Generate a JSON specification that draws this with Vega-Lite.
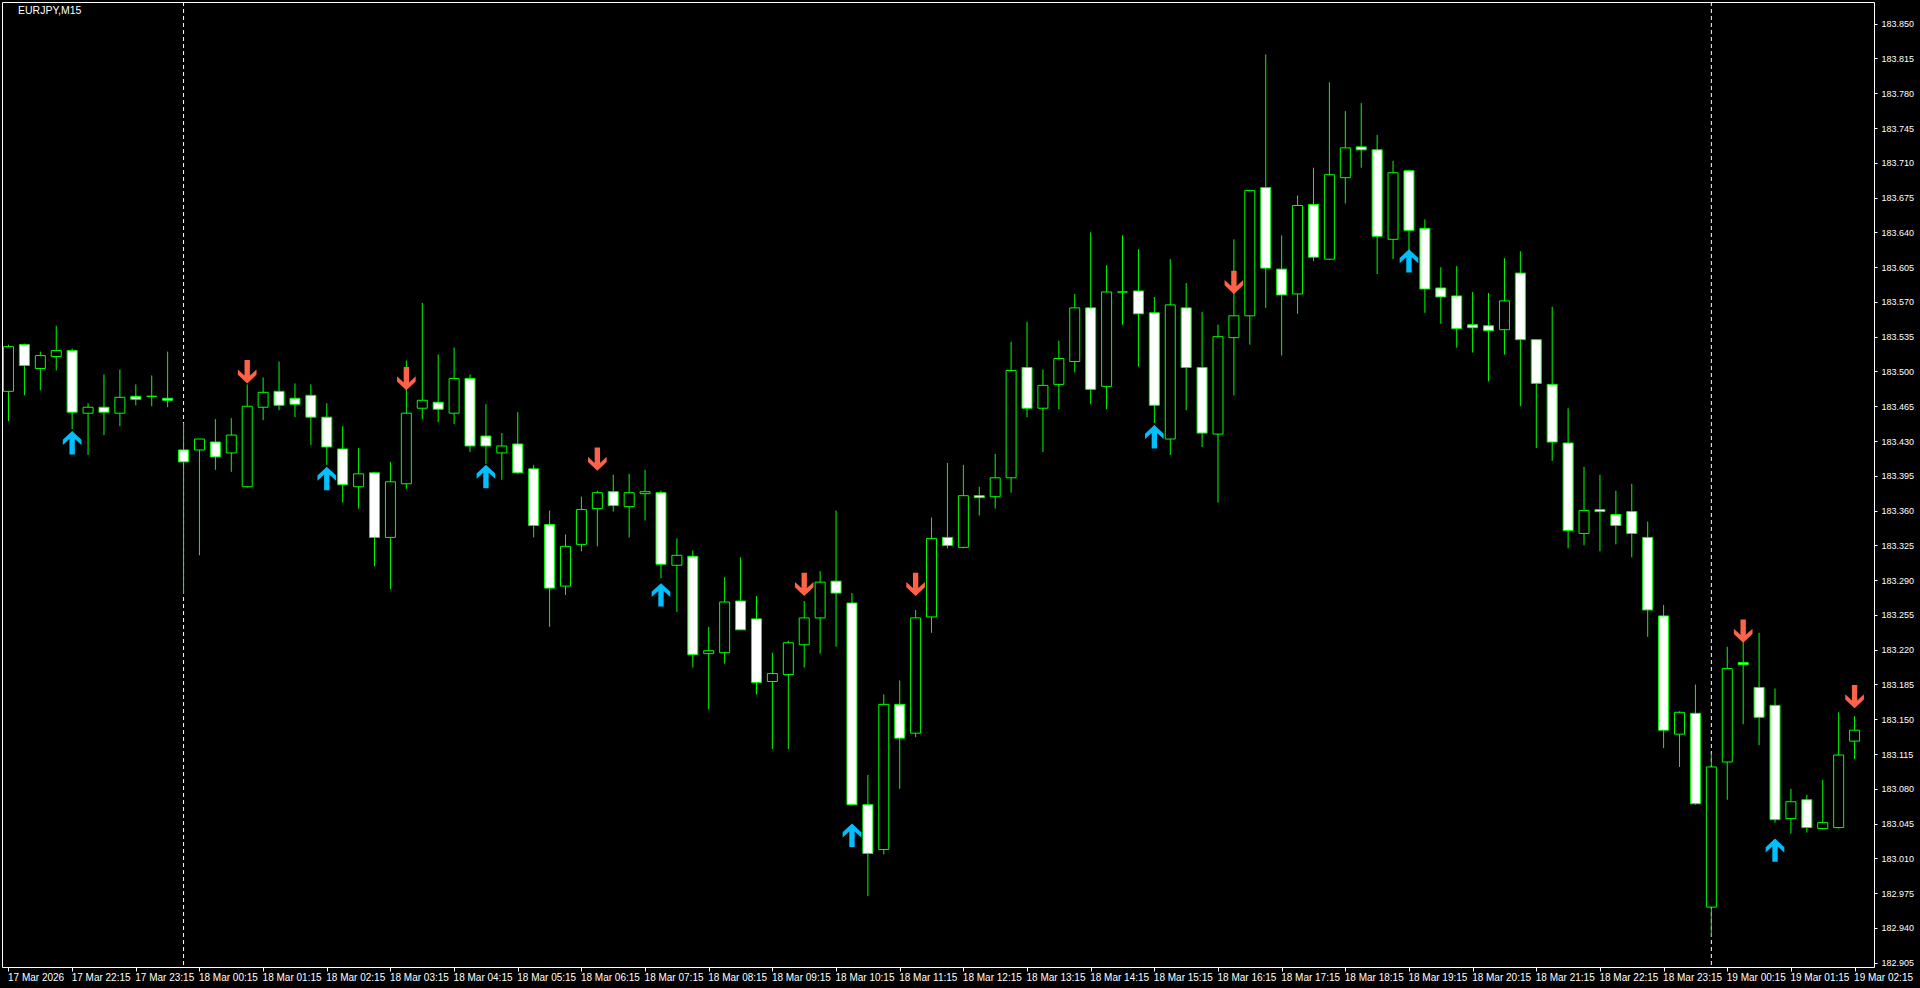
{
  "$schema": "https://vega.github.io/schema/vega-lite/v6.json",
  "width": 1872,
  "height": 965,
  "autosize": "none",
  "padding": {"left": 2, "top": 2, "right": 46, "bottom": 21},
  "background": "black",
  "config": {
    "view": {"stroke": "white", "strokeWidth": 1},
    "axis": {"labelColor": "white", "tickColor": "white", "domain": false, "grid": false, "labelFont": "Liberation Sans", "labelOverlap": false, "labelFlush": false, "labelBound": false, "title": null},
    "axisY": {"labelOverlap": false, "labelSeparation": 0}
  },
  "title": {"text": "EURJPY,M15", "anchor": "start", "frame": "group", "orient": "top", "offset": -15, "dx": 16, "fontSize": 10.5, "fontWeight": "normal", "font": "Liberation Sans", "color": "white"},
  "datasets": {
    "sep": [{"i": 11}, {"i": 107}],
    "bars": [
      {"i":0,"o":183.480,"h":183.527,"l":183.450,"c":183.525},
      {"i":1,"o":183.527,"h":183.528,"l":183.476,"c":183.506},
      {"i":2,"o":183.503,"h":183.520,"l":183.481,"c":183.516},
      {"i":3,"o":183.515,"h":183.546,"l":183.501,"c":183.521},
      {"i":4,"o":183.521,"h":183.523,"l":183.442,"c":183.459,"b":183.440},
      {"i":5,"o":183.458,"h":183.468,"l":183.416,"c":183.464},
      {"i":6,"o":183.464,"h":183.497,"l":183.436,"c":183.459},
      {"i":7,"o":183.458,"h":183.502,"l":183.445,"c":183.474},
      {"i":8,"o":183.475,"h":183.487,"l":183.466,"c":183.472},
      {"i":9,"o":183.475,"h":183.496,"l":183.465,"c":183.475},
      {"i":10,"o":183.473,"h":183.520,"l":183.464,"c":183.471},
      {"i":11,"o":183.421,"h":183.448,"l":183.276,"c":183.409},
      {"i":12,"o":183.421,"h":183.432,"l":183.315,"c":183.432},
      {"i":13,"o":183.429,"h":183.452,"l":183.401,"c":183.414},
      {"i":14,"o":183.418,"h":183.453,"l":183.399,"c":183.436},
      {"i":15,"o":183.384,"h":183.487,"l":183.383,"c":183.465,"s":183.488},
      {"i":16,"o":183.464,"h":183.494,"l":183.451,"c":183.479},
      {"i":17,"o":183.480,"h":183.510,"l":183.461,"c":183.466},
      {"i":18,"o":183.473,"h":183.488,"l":183.454,"c":183.467},
      {"i":19,"o":183.476,"h":183.487,"l":183.426,"c":183.454},
      {"i":20,"o":183.454,"h":183.468,"l":183.406,"c":183.424,"b":183.404},
      {"i":21,"o":183.422,"h":183.445,"l":183.368,"c":183.386},
      {"i":22,"o":183.384,"h":183.423,"l":183.362,"c":183.397},
      {"i":23,"o":183.398,"h":183.399,"l":183.304,"c":183.333},
      {"i":24,"o":183.333,"h":183.409,"l":183.281,"c":183.389},
      {"i":25,"o":183.387,"h":183.511,"l":183.382,"c":183.458,"s":183.481},
      {"i":26,"o":183.463,"h":183.569,"l":183.452,"c":183.471},
      {"i":27,"o":183.469,"h":183.517,"l":183.449,"c":183.462},
      {"i":28,"o":183.458,"h":183.524,"l":183.447,"c":183.493},
      {"i":29,"o":183.493,"h":183.497,"l":183.419,"c":183.425},
      {"i":30,"o":183.435,"h":183.467,"l":183.407,"c":183.425,"b":183.406},
      {"i":31,"o":183.418,"h":183.438,"l":183.391,"c":183.425},
      {"i":32,"o":183.427,"h":183.459,"l":183.397,"c":183.398},
      {"i":33,"o":183.402,"h":183.406,"l":183.333,"c":183.345},
      {"i":34,"o":183.346,"h":183.360,"l":183.243,"c":183.282},
      {"i":35,"o":183.284,"h":183.336,"l":183.275,"c":183.324},
      {"i":36,"o":183.326,"h":183.374,"l":183.319,"c":183.361},
      {"i":37,"o":183.362,"h":183.380,"l":183.324,"c":183.378,"s":183.400},
      {"i":38,"o":183.379,"h":183.396,"l":183.359,"c":183.365},
      {"i":39,"o":183.364,"h":183.397,"l":183.333,"c":183.378},
      {"i":40,"o":183.377,"h":183.401,"l":183.350,"c":183.379},
      {"i":41,"o":183.378,"h":183.380,"l":183.292,"c":183.306,"b":183.287},
      {"i":42,"o":183.305,"h":183.332,"l":183.258,"c":183.315},
      {"i":43,"o":183.314,"h":183.320,"l":183.202,"c":183.215},
      {"i":44,"o":183.216,"h":183.243,"l":183.160,"c":183.219},
      {"i":45,"o":183.217,"h":183.293,"l":183.206,"c":183.268},
      {"i":46,"o":183.269,"h":183.313,"l":183.240,"c":183.240},
      {"i":47,"o":183.251,"h":183.274,"l":183.175,"c":183.187},
      {"i":48,"o":183.188,"h":183.217,"l":183.120,"c":183.196},
      {"i":49,"o":183.195,"h":183.229,"l":183.120,"c":183.227},
      {"i":50,"o":183.225,"h":183.269,"l":183.202,"c":183.252,"s":183.274},
      {"i":51,"o":183.252,"h":183.299,"l":183.216,"c":183.288},
      {"i":52,"o":183.289,"h":183.360,"l":183.223,"c":183.277},
      {"i":53,"o":183.267,"h":183.277,"l":183.064,"c":183.064,"b":183.045},
      {"i":54,"o":183.064,"h":183.094,"l":182.972,"c":183.015},
      {"i":55,"o":183.019,"h":183.175,"l":183.014,"c":183.165},
      {"i":56,"o":183.165,"h":183.189,"l":183.080,"c":183.131},
      {"i":57,"o":183.136,"h":183.260,"l":183.132,"c":183.252,"s":183.274},
      {"i":58,"o":183.253,"h":183.353,"l":183.237,"c":183.332},
      {"i":59,"o":183.333,"h":183.408,"l":183.322,"c":183.325},
      {"i":60,"o":183.323,"h":183.406,"l":183.322,"c":183.375},
      {"i":61,"o":183.375,"h":183.384,"l":183.355,"c":183.373},
      {"i":62,"o":183.374,"h":183.417,"l":183.362,"c":183.393},
      {"i":63,"o":183.393,"h":183.530,"l":183.378,"c":183.501},
      {"i":64,"o":183.504,"h":183.550,"l":183.454,"c":183.463},
      {"i":65,"o":183.463,"h":183.502,"l":183.419,"c":183.486},
      {"i":66,"o":183.487,"h":183.531,"l":183.462,"c":183.513},
      {"i":67,"o":183.510,"h":183.578,"l":183.499,"c":183.564},
      {"i":68,"o":183.564,"h":183.640,"l":183.467,"c":183.482},
      {"i":69,"o":183.485,"h":183.607,"l":183.462,"c":183.580},
      {"i":70,"o":183.580,"h":183.637,"l":183.547,"c":183.580},
      {"i":71,"o":183.581,"h":183.623,"l":183.505,"c":183.558},
      {"i":72,"o":183.559,"h":183.575,"l":183.448,"c":183.466,"b":183.446},
      {"i":73,"o":183.432,"h":183.613,"l":183.416,"c":183.567},
      {"i":74,"o":183.564,"h":183.589,"l":183.461,"c":183.504},
      {"i":75,"o":183.504,"h":183.560,"l":183.424,"c":183.438},
      {"i":76,"o":183.437,"h":183.547,"l":183.368,"c":183.535},
      {"i":77,"o":183.534,"h":183.633,"l":183.476,"c":183.556,"s":183.578},
      {"i":78,"o":183.556,"h":183.683,"l":183.527,"c":183.682},
      {"i":79,"o":183.685,"h":183.819,"l":183.564,"c":183.604},
      {"i":80,"o":183.603,"h":183.637,"l":183.516,"c":183.577},
      {"i":81,"o":183.578,"h":183.677,"l":183.558,"c":183.667},
      {"i":82,"o":183.668,"h":183.705,"l":183.611,"c":183.615},
      {"i":83,"o":183.613,"h":183.791,"l":183.612,"c":183.698},
      {"i":84,"o":183.695,"h":183.762,"l":183.669,"c":183.725},
      {"i":85,"o":183.726,"h":183.770,"l":183.705,"c":183.723},
      {"i":86,"o":183.723,"h":183.738,"l":183.598,"c":183.636},
      {"i":87,"o":183.633,"h":183.712,"l":183.613,"c":183.700},
      {"i":88,"o":183.702,"h":183.703,"l":183.621,"c":183.642,"b":183.623},
      {"i":89,"o":183.644,"h":183.653,"l":183.559,"c":183.583},
      {"i":90,"o":183.584,"h":183.605,"l":183.548,"c":183.575},
      {"i":91,"o":183.576,"h":183.606,"l":183.524,"c":183.543},
      {"i":92,"o":183.547,"h":183.580,"l":183.519,"c":183.544},
      {"i":93,"o":183.546,"h":183.579,"l":183.490,"c":183.541},
      {"i":94,"o":183.542,"h":183.614,"l":183.517,"c":183.571},
      {"i":95,"o":183.599,"h":183.621,"l":183.465,"c":183.532},
      {"i":96,"o":183.532,"h":183.532,"l":183.423,"c":183.488},
      {"i":97,"o":183.487,"h":183.565,"l":183.410,"c":183.429},
      {"i":98,"o":183.428,"h":183.463,"l":183.322,"c":183.340},
      {"i":99,"o":183.337,"h":183.404,"l":183.325,"c":183.360},
      {"i":100,"o":183.361,"h":183.396,"l":183.319,"c":183.359},
      {"i":101,"o":183.356,"h":183.380,"l":183.326,"c":183.345},
      {"i":102,"o":183.359,"h":183.387,"l":183.313,"c":183.337},
      {"i":103,"o":183.333,"h":183.349,"l":183.233,"c":183.260},
      {"i":104,"o":183.254,"h":183.265,"l":183.121,"c":183.139},
      {"i":105,"o":183.135,"h":183.158,"l":183.102,"c":183.157},
      {"i":106,"o":183.156,"h":183.185,"l":183.064,"c":183.065},
      {"i":107,"o":182.961,"h":183.116,"l":182.931,"c":183.102},
      {"i":108,"o":183.107,"h":183.223,"l":183.069,"c":183.201},
      {"i":109,"o":183.207,"h":183.228,"l":183.145,"c":183.205,"s":183.227},
      {"i":110,"o":183.182,"h":183.237,"l":183.124,"c":183.152},
      {"i":111,"o":183.164,"h":183.181,"l":183.046,"c":183.049,"b":183.030},
      {"i":112,"o":183.050,"h":183.080,"l":183.035,"c":183.067},
      {"i":113,"o":183.069,"h":183.074,"l":183.036,"c":183.041},
      {"i":114,"o":183.040,"h":183.089,"l":183.039,"c":183.046},
      {"i":115,"o":183.041,"h":183.157,"l":183.040,"c":183.114},
      {"i":116,"o":183.128,"h":183.153,"l":183.110,"c":183.139,"s":183.161}
    ]
  },
  "layer": [
    {
      "data": {"name": "sep"},
      "mark": {"type": "rule", "stroke": "white", "strokeWidth": 1, "strokeDash": [4, 3]},
      "encoding": {
        "x": {"field": "i", "type": "quantitative", "scale": {"domain": [-0.09375, 116.90625], "nice": false, "zero": false},
          "axis": {"orient": "bottom", "values": [0,4,8,12,16,20,24,28,32,36,40,44,48,52,56,60,64,68,72,76,80,84,88,92,96,100,104,108,112,116],
            "labelExpr": "datum.value == 0 ? '17 Mar 2026' : timeFormat(datetime(2026, 2, 17, 21, 15 + datum.value * 15), '%d %b %H:%M')",
            "labelAlign": "left", "labelBaseline": "top", "labelPadding": 1, "labelOffset": -1, "tickSize": 4, "labelFontSize": 10, "labelOverlap": false, "labelFlush": false, "labelBound": false, "title": null}}
      }
    },
    {
      "data": {"name": "bars"},
      "mark": {"type": "rule", "stroke": "#00FF00", "strokeWidth": 1},
      "encoding": {
        "x": {"field": "i", "type": "quantitative", "scale": {"domain": [-0.09375, 116.90625], "nice": false, "zero": false},
          "axis": {"orient": "bottom", "values": [0,4,8,12,16,20,24,28,32,36,40,44,48,52,56,60,64,68,72,76,80,84,88,92,96,100,104,108,112,116],
            "labelExpr": "datum.value == 0 ? '17 Mar 2026' : timeFormat(datetime(2026, 2, 17, 21, 15 + datum.value * 15), '%d %b %H:%M')",
            "labelAlign": "left", "labelBaseline": "top", "labelPadding": 1, "labelOffset": -1, "tickSize": 4, "labelFontSize": 10, "labelOverlap": false, "labelFlush": false, "labelBound": false, "title": null}},
        "y": {"field": "l", "type": "quantitative", "scale": {"domain": [182.9007, 183.8718], "nice": false, "zero": false},
          "axis": {"orient": "right", "values": [182.905,182.94,182.975,183.01,183.045,183.08,183.115,183.15,183.185,183.22,183.255,183.29,183.325,183.36,183.395,183.43,183.465,183.5,183.535,183.57,183.605,183.64,183.675,183.71,183.745,183.78,183.815,183.85],
            "format": ".3f", "tickSize": 3, "labelPadding": 4, "labelFontSize": 9, "labelAlign": "left", "labelBaseline": "middle", "labelOverlap": false, "labelSeparation": 0, "labelFlush": false, "labelBound": false, "title": null}},
        "y2": {"field": "h"}
      }
    },
    {
      "data": {"name": "bars"},
      "mark": {"type": "bar", "width": 10, "stroke": "#00FF00", "strokeWidth": 1},
      "encoding": {
        "x": {"field": "i", "type": "quantitative", "scale": {"domain": [-0.09375, 116.90625], "nice": false, "zero": false},
          "axis": {"orient": "bottom", "values": [0,4,8,12,16,20,24,28,32,36,40,44,48,52,56,60,64,68,72,76,80,84,88,92,96,100,104,108,112,116],
            "labelExpr": "datum.value == 0 ? '17 Mar 2026' : timeFormat(datetime(2026, 2, 17, 21, 15 + datum.value * 15), '%d %b %H:%M')",
            "labelAlign": "left", "labelBaseline": "top", "labelPadding": 1, "labelOffset": -1, "tickSize": 4, "labelFontSize": 10, "labelOverlap": false, "labelFlush": false, "labelBound": false, "title": null}},
        "y": {"field": "o", "type": "quantitative", "scale": {"domain": [182.9007, 183.8718], "nice": false, "zero": false},
          "axis": {"orient": "right", "values": [182.905,182.94,182.975,183.01,183.045,183.08,183.115,183.15,183.185,183.22,183.255,183.29,183.325,183.36,183.395,183.43,183.465,183.5,183.535,183.57,183.605,183.64,183.675,183.71,183.745,183.78,183.815,183.85],
            "format": ".3f", "tickSize": 3, "labelPadding": 4, "labelFontSize": 9, "labelAlign": "left", "labelBaseline": "middle", "labelOverlap": false, "labelSeparation": 0, "labelFlush": false, "labelBound": false, "title": null}},
        "y2": {"field": "c"},
        "fill": {"condition": {"test": "datum.c < datum.o", "value": "white"}, "value": "black"}
      }
    },
    {
      "data": {"name": "bars"},
      "transform": [{"filter": "isValid(datum.b)"}],
      "mark": {"type": "point", "filled": true, "opacity": 1, "color": "#00BFFF", "size": 543, "yOffset": 11.65,
        "shape": "M0,-1L0.8,-0.25L0.8,0.2L0.23,-0.32L0.23,1L-0.23,1L-0.23,-0.32L-0.8,0.2L-0.8,-0.25Z"},
      "encoding": {
        "x": {"field": "i", "type": "quantitative", "scale": {"domain": [-0.09375, 116.90625], "nice": false, "zero": false},
          "axis": {"orient": "bottom", "values": [0,4,8,12,16,20,24,28,32,36,40,44,48,52,56,60,64,68,72,76,80,84,88,92,96,100,104,108,112,116],
            "labelExpr": "datum.value == 0 ? '17 Mar 2026' : timeFormat(datetime(2026, 2, 17, 21, 15 + datum.value * 15), '%d %b %H:%M')",
            "labelAlign": "left", "labelBaseline": "top", "labelPadding": 1, "labelOffset": -1, "tickSize": 4, "labelFontSize": 10, "labelOverlap": false, "labelFlush": false, "labelBound": false, "title": null}},
        "y": {"field": "b", "type": "quantitative", "scale": {"domain": [182.9007, 183.8718], "nice": false, "zero": false},
          "axis": {"orient": "right", "values": [182.905,182.94,182.975,183.01,183.045,183.08,183.115,183.15,183.185,183.22,183.255,183.29,183.325,183.36,183.395,183.43,183.465,183.5,183.535,183.57,183.605,183.64,183.675,183.71,183.745,183.78,183.815,183.85],
            "format": ".3f", "tickSize": 3, "labelPadding": 4, "labelFontSize": 9, "labelAlign": "left", "labelBaseline": "middle", "labelOverlap": false, "labelSeparation": 0, "labelFlush": false, "labelBound": false, "title": null}}
      }
    },
    {
      "data": {"name": "bars"},
      "transform": [{"filter": "isValid(datum.s)"}],
      "mark": {"type": "point", "filled": true, "opacity": 1, "color": "#FF6347", "size": 543, "yOffset": -11.65,
        "shape": "M0,1L0.8,0.25L0.8,-0.2L0.23,0.32L0.23,-1L-0.23,-1L-0.23,0.32L-0.8,-0.2L-0.8,0.25Z"},
      "encoding": {
        "x": {"field": "i", "type": "quantitative", "scale": {"domain": [-0.09375, 116.90625], "nice": false, "zero": false},
          "axis": {"orient": "bottom", "values": [0,4,8,12,16,20,24,28,32,36,40,44,48,52,56,60,64,68,72,76,80,84,88,92,96,100,104,108,112,116],
            "labelExpr": "datum.value == 0 ? '17 Mar 2026' : timeFormat(datetime(2026, 2, 17, 21, 15 + datum.value * 15), '%d %b %H:%M')",
            "labelAlign": "left", "labelBaseline": "top", "labelPadding": 1, "labelOffset": -1, "tickSize": 4, "labelFontSize": 10, "labelOverlap": false, "labelFlush": false, "labelBound": false, "title": null}},
        "y": {"field": "s", "type": "quantitative", "scale": {"domain": [182.9007, 183.8718], "nice": false, "zero": false},
          "axis": {"orient": "right", "values": [182.905,182.94,182.975,183.01,183.045,183.08,183.115,183.15,183.185,183.22,183.255,183.29,183.325,183.36,183.395,183.43,183.465,183.5,183.535,183.57,183.605,183.64,183.675,183.71,183.745,183.78,183.815,183.85],
            "format": ".3f", "tickSize": 3, "labelPadding": 4, "labelFontSize": 9, "labelAlign": "left", "labelBaseline": "middle", "labelOverlap": false, "labelSeparation": 0, "labelFlush": false, "labelBound": false, "title": null}}
      }
    }
  ]
}
